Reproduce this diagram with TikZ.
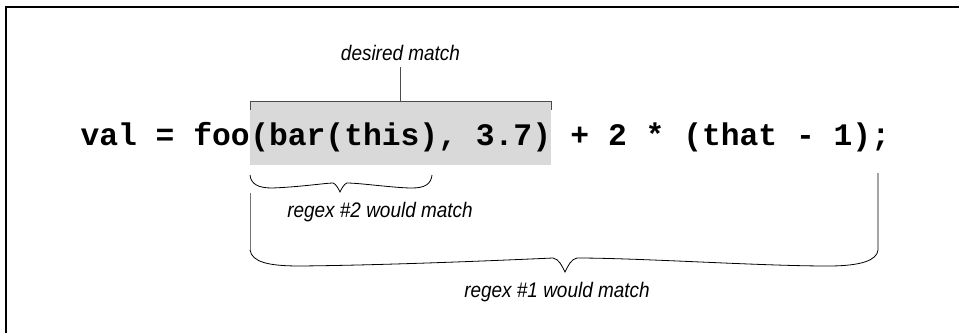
\documentclass[tikz,border=0pt]{standalone}
\usepackage{fontspec}
\setmonofont{Liberation Mono}
\newfontfamily\notefont[FakeStretch=0.9]{Liberation Sans}
\usetikzlibrary{positioning,calc}

\begin{document}
\begin{tikzpicture}[x=0.75pt,y=-0.75pt,
	code/.style   = {inner sep=0pt, font=\ttfamily\bfseries\fontsize{23.5}{28}\selectfont},
	hilite/.style = {code, fill=black!15, text height=32.25pt, text depth=15pt},
	note/.style   = {inner sep=0pt, font=\notefont\itshape\fontsize{15.8}{19}\selectfont},
	frame/.style  = {line width=1.2pt},
	bracket/.style = {draw=black!70, line width=0.6pt},
	curly/.style  = {draw, line width=0.6pt}]

	\useasboundingbox (0,0) rectangle (959,333);

	% open frame, top and left edge
	\draw[frame] (959,7) -- (6,7) -- (6,333);

	% the code line, highlighted part in the middle
	\node[hilite, anchor=base west] (hl) at (250,145) {(bar(this), 3.7)};
	\node[code, anchor=base east] (pre) at (hl.base west) {val = foo};
	\node[code, anchor=base west] (post) at (hl.base east) {\phantom{x}+ 2 * (that - 1);};

	% desired match, bracket on top of the highlight
	\node[note, anchor=base] (dm) at (400.5,60) {desired match};
	\draw[bracket] ([yshift=-6pt]hl.north west) -- (hl.north west) -- (hl.north east) -- ([yshift=-6pt]hl.north east);
	\draw[bracket] (hl.north) -- ++(0,-35);

	% regex #2, small brace
	\draw[curly] (250,175) .. controls (251,184) and (258,188) .. (272,188)
		.. controls (300,187) and (326,183) .. (333,183)
		.. controls (336,184) and (338,188) .. (340,192)
		.. controls (342,188) and (344,184) .. (347,183)
		.. controls (360,183) and (395,188) .. (412,188)
		.. controls (425,188) and (431,184) .. (432,175);
	\node[note, anchor=base] (re2) at (380,217) {regex \#2 would match};

	% regex #1, long brace
	\draw[curly, draw=black!55] (250,193) -- (250,250);
	\draw[curly] (250,250) .. controls (252,262) and (268,266) .. (300,266)
		.. controls (400,265) and (530,259) .. (553,258)
		.. controls (559,259) and (562,266) .. (565,272)
		.. controls (568,266) and (571,259) .. (577,258)
		.. controls (640,258) and (760,266) .. (828,266)
		.. controls (862,266) and (877,260) .. (878,250) -- (878,173);
	\node[note, anchor=base] (re1) at (557,297) {regex \#1 would match};

\end{tikzpicture}
\end{document}
